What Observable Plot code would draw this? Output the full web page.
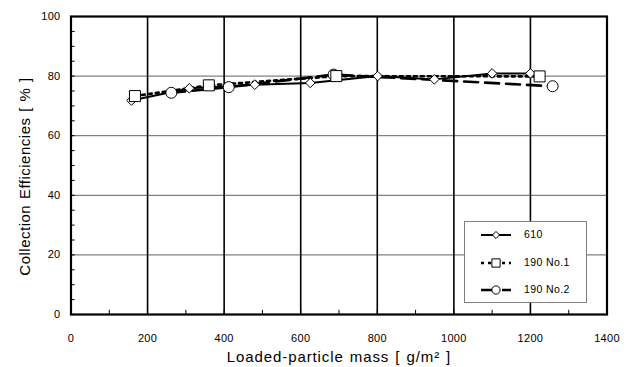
<!DOCTYPE html>
<html>
<head>
<meta charset="utf-8">
<script src="https://cdn.jsdelivr.net/npm/d3@7"></script>
<script src="https://cdn.jsdelivr.net/npm/@observablehq/plot@0.6"></script>
<style>
  html, body { margin: 0; padding: 0; background: #fff; }
  #wrap { position: relative; width: 632px; height: 367px; font-family: "Liberation Sans", Arial, sans-serif; }
  #legend { position: absolute; left: 464px; top: 221px; width: 121px; height: 80px; border: 1px solid #808080; background: #fff; font-size: 10.5px; letter-spacing: 0.4px; }
  .row { position: absolute; left: 0; height: 16px; }
  .row svg { position: absolute; left: 14px; top: 0; }
  .row span { position: absolute; left: 59px; top: 1px; white-space: nowrap; color: #000; }
</style>
</head>
<body>
<div id="wrap"></div>
<script>
// ---- data ----
const seriesNames = ["610", "190 No.1", "190 No.2"];
const x610 = [158, 309, 480, 625, 801, 949, 1100, 1200];
const y610 = [71.8, 75.9, 77.1, 77.7, 80.0, 78.9, 80.9, 80.9];
const x190a = [167, 360, 693, 1224];
const y190a = [73.3, 76.9, 80.0, 79.9];
const x190b = [262, 412, 686, 1258];
const y190b = [74.4, 76.3, 80.5, 76.6];
const xTicks = [0, 200, 400, 600, 800, 1000, 1200, 1400];
const yTicks = [0, 20, 40, 60, 80, 100];
const xLabel = "Loaded-particle mass [ g/m² ]";
const yLabel = "Collection Efficiencies [ % ]";

const toRows = (xs, ys, name) => xs.map((x, i) => ({x, y: ys[i], series: name}));
const d610 = toRows(x610, y610, seriesNames[0]);
const d190a = toRows(x190a, y190a, seriesNames[1]);
const d190b = toRows(x190b, y190b, seriesNames[2]);

const styles = {
  "610": {dash: null, sw: 2, symbol: "diamond2", r: 4.3},
  "190 No.1": {dash: "3,4", sw: 2.6, symbol: "square2", r: 7},
  "190 No.2": {dash: "14,7", sw: 2.6, symbol: "circle", r: 5.5}
};

const minorY = d3.range(0, 101, 5);
const minorX = d3.range(0, 1401, 100);

const chart = Plot.plot({
  width: 632,
  height: 367,
  marginLeft: 70.5,
  marginRight: 25.5,
  marginTop: 16,
  marginBottom: 53,
  style: {fontFamily: "'Liberation Sans', Arial, sans-serif", fontSize: "11px", background: "#fff", color: "#000"},
  x: {domain: [0, 1400]},
  y: {domain: [0, 100]},
  marks: [
    Plot.gridY(yTicks.filter(d => d > 0 && d < 100), {stroke: "#606060", strokeOpacity: 1, strokeWidth: 1}),
    Plot.gridX(xTicks.filter(d => d > 0 && d < 1400), {stroke: "#000", strokeOpacity: 1, strokeWidth: 1.6}),
    Plot.ruleY(minorY, {y: d => d, x1: 0, x2: 11, stroke: "#000", strokeWidth: 1}),
    Plot.ruleX(minorX, {x: d => d, y1: 0, y2: 1.4, stroke: "#000", strokeWidth: 1}),
    Plot.axisX({ticks: xTicks, tickFormat: d3.format("d"), tickSize: 0, tickPadding: 20, label: null, fontSize: 11}),
    Plot.axisY({ticks: yTicks, tickFormat: d3.format("d"), tickSize: 0, tickPadding: 10.5, label: null, fontSize: 11}),
    Plot.text([xLabel], {frameAnchor: "bottom", lineAnchor: "middle", dy: 43, text: d => d, fontSize: 15, fill: "#000"}),
    Plot.text([yLabel], {frameAnchor: "left", textAnchor: "middle", lineAnchor: "middle", dx: -46, dy: 11, rotate: -90, text: d => d, fontSize: 15, fill: "#000"}),
    Plot.line(d610, {x: "x", y: "y", stroke: "#000", strokeWidth: styles["610"].sw}),
    Plot.line(d190a, {x: "x", y: "y", stroke: "#000", strokeWidth: styles["190 No.1"].sw, strokeDasharray: styles["190 No.1"].dash}),
    Plot.line(d190b, {x: "x", y: "y", stroke: "#000", strokeWidth: styles["190 No.2"].sw, strokeDasharray: styles["190 No.2"].dash}),
    Plot.dot(d610, {x: "x", y: "y", symbol: styles["610"].symbol, r: styles["610"].r, fill: "#fff", stroke: "#000", strokeWidth: 1}),
    Plot.dot(d190b, {x: "x", y: "y", symbol: styles["190 No.2"].symbol, r: styles["190 No.2"].r, fill: "#fff", stroke: "#000", strokeWidth: 1}),
    Plot.dot(d190a, {x: "x", y: "y", symbol: styles["190 No.1"].symbol, r: styles["190 No.1"].r, fill: "#fff", stroke: "#000", strokeWidth: 1}),
    Plot.frame({stroke: "#000", strokeWidth: 2.2})
  ]
});

// the reference's text is slightly wide: widen via letter/word spacing
chart.querySelectorAll("text").forEach(t => {
  if (t.textContent === xLabel) {
    t.style.letterSpacing = "0.9px";
    t.style.wordSpacing = "1px";
  } else if (t.textContent === yLabel) {
    t.style.letterSpacing = "0.5px";
    t.style.wordSpacing = "1px";
  } else {
    t.style.letterSpacing = "0.3px";
  }
});

const wrap = document.getElementById("wrap");
wrap.appendChild(chart);

// legend
const legend = document.createElement("div");
legend.id = "legend";
const rowTops = [5, 33, 60];
seriesNames.forEach((name, i) => {
  const st = styles[name];
  const row = document.createElement("div");
  row.className = "row";
  row.style.top = rowTops[i] + "px";
  const ns = "http://www.w3.org/2000/svg";
  const svg = document.createElementNS(ns, "svg");
  svg.setAttribute("width", 34); svg.setAttribute("height", 16);
  const line = document.createElementNS(ns, "line");
  line.setAttribute("x1", 2); line.setAttribute("x2", 32); line.setAttribute("y1", 8); line.setAttribute("y2", 8);
  line.setAttribute("stroke", "#000"); line.setAttribute("stroke-width", st.sw);
  if (st.dash) line.setAttribute("stroke-dasharray", st.dash);
  svg.appendChild(line);
  const sym = d3.symbol(
    st.symbol === "diamond2" ? d3.symbolDiamond2 : st.symbol === "square2" ? d3.symbolSquare2 : d3.symbolCircle,
    Math.PI * (st.r * 0.75) ** 2);
  const p = document.createElementNS(ns, "path");
  p.setAttribute("d", sym());
  p.setAttribute("transform", "translate(17,8)");
  p.setAttribute("fill", "#fff"); p.setAttribute("stroke", "#000");
  svg.appendChild(p);
  row.appendChild(svg);
  const span = document.createElement("span");
  span.textContent = name;
  row.appendChild(span);
  legend.appendChild(row);
});
wrap.appendChild(legend);
</script>
</body>
</html>
